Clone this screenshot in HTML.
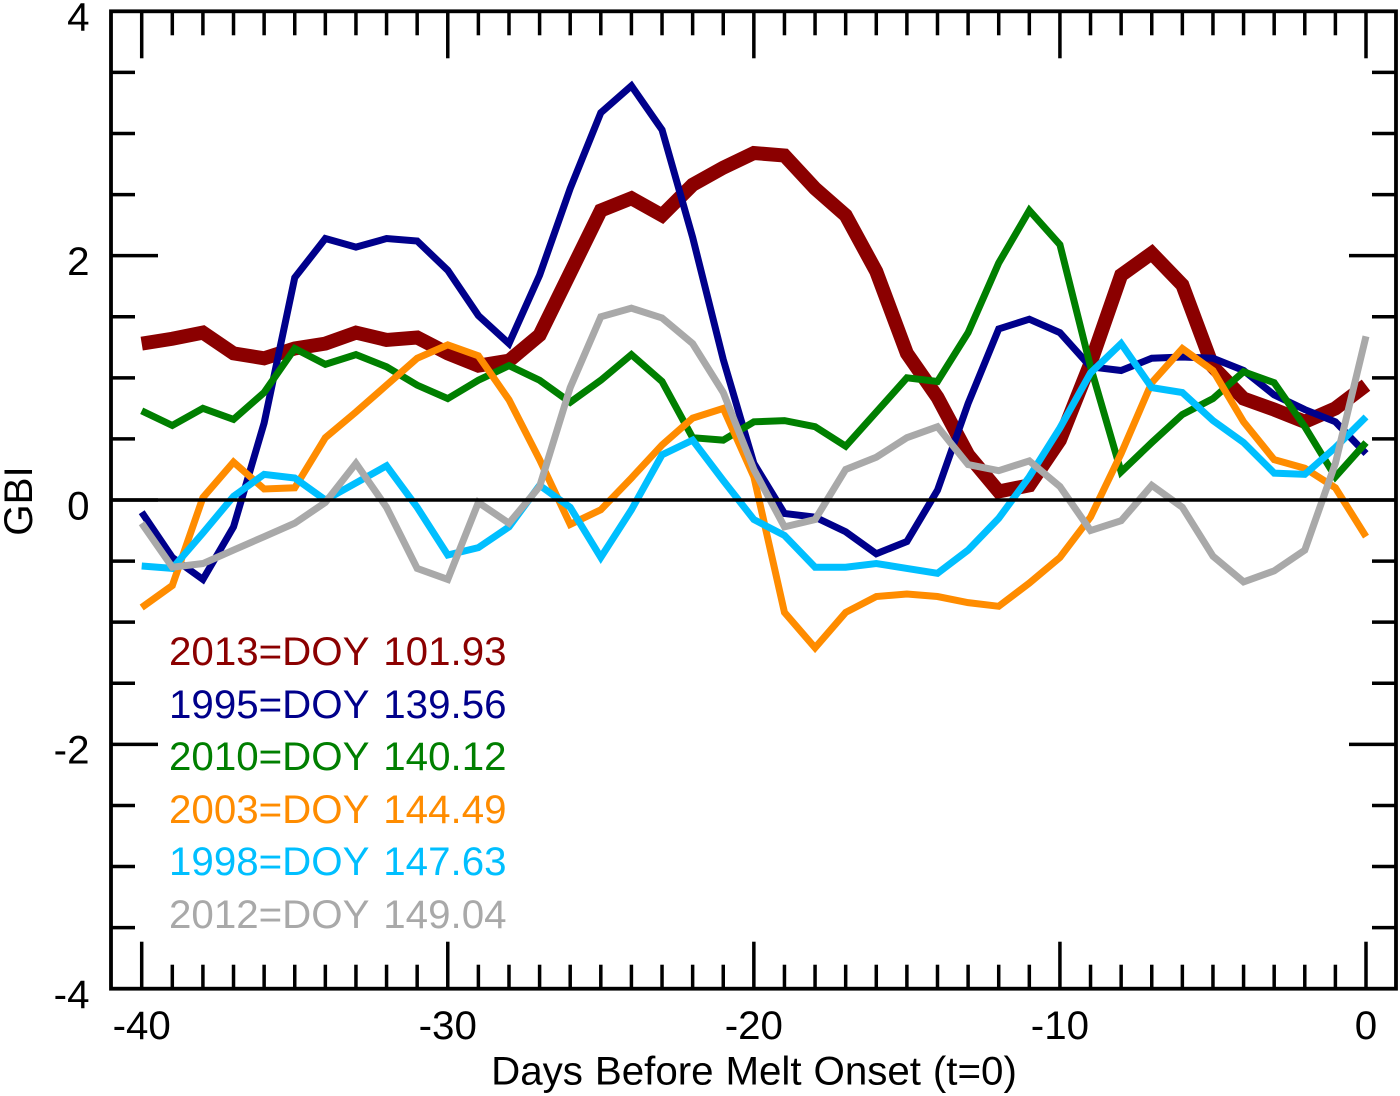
<!DOCTYPE html>
<html lang="en">
<head>
<meta charset="utf-8">
<title>GBI Before Melt Onset</title>
<style>
html,body{margin:0;padding:0;background:#fff;width:1400px;height:1096px;overflow:hidden}
svg{display:block}
text{font-family:"Liberation Sans",Arial,sans-serif;font-size:40.3px;fill:#000;white-space:pre}
</style>
</head>
<body>
<svg id="chart" xmlns="http://www.w3.org/2000/svg" width="1400" height="1096" viewBox="0 0 1400 1096">
  <rect x="0" y="0" width="1400" height="1096" fill="#fff"/>
  <g id="series-layer"></g>
  <g id="tick-layer"></g>
  <line id="zero-line" stroke="#000" stroke-width="3.5"/>
  <rect id="frame" fill="none" stroke="#000" stroke-width="3.8"/>
  <g id="label-layer"></g>
  <text x="754" y="1084.5" text-anchor="middle" style="word-spacing:0.7px">Days Before Melt Onset (t=0)</text>
  <text x="32" y="501" text-anchor="middle" transform="rotate(-90 32 501)">GBI</text>
  <g style="word-spacing:3.3px">
    <text x="169" y="665" style="fill:#8b0000">2013=DOY 101.93</text>
    <text x="169" y="718" style="fill:#00008b">1995=DOY 139.56</text>
    <text x="169" y="770" style="fill:#007f00">2010=DOY 140.12</text>
    <text x="169" y="823" style="fill:#ff8c00">2003=DOY 144.49</text>
    <text x="169" y="875" style="fill:#00bfff">1998=DOY 147.63</text>
    <text x="169" y="928" style="fill:#a9a9a9">2012=DOY 149.04</text>
  </g>
</svg>
<script>
var days = [-40,-39,-38,-37,-36,-35,-34,-33,-32,-31,-30,-29,-28,-27,-26,-25,-24,-23,-22,-21,-20,-19,-18,-17,-16,-15,-14,-13,-12,-11,-10,-9,-8,-7,-6,-5,-4,-3,-2,-1,0];
var gbi2013 = [1.28,1.32,1.37,1.20,1.16,1.24,1.28,1.37,1.31,1.33,1.20,1.10,1.14,1.35,1.86,2.37,2.47,2.33,2.58,2.72,2.84,2.82,2.55,2.33,1.87,1.20,0.84,0.37,0.07,0.12,0.49,1.12,1.84,2.02,1.76,1.09,0.83,0.74,0.64,0.75,0.94];
var gbi1995 = [-0.10,-0.47,-0.65,-0.22,0.63,1.82,2.14,2.07,2.14,2.12,1.88,1.51,1.28,1.84,2.55,3.17,3.39,3.03,2.15,1.15,0.30,-0.11,-0.14,-0.26,-0.44,-0.34,0.08,0.79,1.40,1.48,1.37,1.09,1.06,1.16,1.17,1.16,1.06,0.86,0.74,0.64,0.38];
var gbi2010 = [0.73,0.61,0.75,0.66,0.88,1.24,1.11,1.19,1.09,0.94,0.83,0.98,1.10,0.98,0.80,0.98,1.19,0.97,0.51,0.49,0.64,0.65,0.60,0.44,0.72,1.00,0.97,1.37,1.94,2.37,2.09,1.09,0.23,0.47,0.70,0.83,1.05,0.96,0.60,0.19,0.47];
var gbi2003 = [-0.88,-0.70,0.02,0.31,0.09,0.10,0.51,0.72,0.94,1.16,1.27,1.18,0.82,0.33,-0.20,-0.08,0.18,0.45,0.67,0.75,0.19,-0.92,-1.21,-0.92,-0.79,-0.77,-0.79,-0.84,-0.87,-0.68,-0.47,-0.14,0.38,0.96,1.24,1.06,0.64,0.33,0.26,0.10,-0.30];
var gbi1998 = [-0.54,-0.56,-0.27,0.03,0.21,0.18,0.00,0.14,0.28,-0.06,-0.45,-0.39,-0.22,0.12,-0.06,-0.47,-0.08,0.37,0.49,0.16,-0.16,-0.29,-0.55,-0.55,-0.52,-0.56,-0.60,-0.41,-0.15,0.19,0.59,1.04,1.28,0.92,0.88,0.65,0.47,0.22,0.21,0.43,0.68];
var gbi2012 = [-0.19,-0.55,-0.52,-0.41,-0.30,-0.19,-0.02,0.30,-0.06,-0.56,-0.65,-0.02,-0.19,0.11,0.92,1.50,1.57,1.49,1.28,0.88,0.25,-0.22,-0.16,0.25,0.35,0.51,0.60,0.29,0.24,0.32,0.11,-0.25,-0.17,0.12,-0.06,-0.46,-0.67,-0.58,-0.41,0.30,1.34];
var xMajorTicks = [-40,-30,-20,-10,0];
var yMajorTicks = [-4,-2,0,2,4];

var NS = 'http://www.w3.org/2000/svg';
var plot = {left:111, right:1396, top:11.3, bottom:988.7, x0:141.7, x1:1366};
function sx(d){ return plot.x0 + (d + 40) * (plot.x1 - plot.x0) / 40; }
function sy(v){ return plot.bottom - (v + 4) * (plot.bottom - plot.top) / 8; }

var seriesLayer = document.getElementById('series-layer');
var tickLayer = document.getElementById('tick-layer');
var labelLayer = document.getElementById('label-layer');

function drawSeries(name, values, color, width){
  var line = document.createElementNS(NS, 'polyline');
  
  
  var pts = [];
  for (var i = 0; i < values.length; i++) {
    pts.push(sx(days[i]).toFixed(2) + ',' + sy(values[i]).toFixed(2));
  }
  line.setAttribute('points', pts.join(' '));
  line.setAttribute('fill', 'none');
  line.setAttribute('stroke', color);
  line.setAttribute('stroke-width', width);
  line.setAttribute('stroke-linejoin', 'miter');
  line.setAttribute('stroke-miterlimit', '10');
  seriesLayer.appendChild(line);
}
drawSeries('2013', gbi2013, '#8b0000', 14);
drawSeries('1995', gbi1995, '#00008b', 7);
drawSeries('2010', gbi2010, '#007f00', 7);
drawSeries('2003', gbi2003, '#ff8c00', 7);
drawSeries('1998', gbi1998, '#00bfff', 7);
drawSeries('2012', gbi2012, '#a9a9a9', 7);

function tick(x1, y1, x2, y2, name){
  var t = document.createElementNS(NS, 'line');
  
  
  t.setAttribute('x1', x1);
  t.setAttribute('y1', y1);
  t.setAttribute('x2', x2);
  t.setAttribute('y2', y2);
  t.setAttribute('stroke', '#000');
  t.setAttribute('stroke-width', '3.5');
  tickLayer.appendChild(t);
}
function label(str, x, y, anchor, name){
  var t = document.createElementNS(NS, 'text');
  
  
  t.setAttribute('x', x);
  t.setAttribute('y', y);
  t.setAttribute('text-anchor', anchor);
  t.textContent = str;
  labelLayer.appendChild(t);
}

days.forEach(function(d){
  var major = xMajorTicks.indexOf(d) >= 0;
  var len = major ? 47 : 24;
  var x = sx(d);
  tick(x, plot.top, x, plot.top + len, 'x-tick-top');
  tick(x, plot.bottom, x, plot.bottom - len, 'x-tick-bottom');
});
for (var k = -8; k <= 8; k++) {
  var v = k / 2;
  if (v === -4 || v === 4) continue;
  var isMajor = yMajorTicks.indexOf(v) >= 0;
  var ylen = isMajor ? 47 : 24;
  var yy = sy(v);
  tick(plot.left, yy, plot.left + ylen, yy, 'y-tick-left');
  tick(plot.right, yy, plot.right - ylen, yy, 'y-tick-right');
}
xMajorTicks.forEach(function(d){
  label(String(d), sx(d), 1039, 'middle', 'x-tick-label');
});
yMajorTicks.forEach(function(v){
  label(String(v), 89.5, sy(v) + 19.3, 'end', 'y-tick-label');
});

var zero = document.getElementById('zero-line');
zero.setAttribute('x1', plot.left);
zero.setAttribute('x2', plot.right);
zero.setAttribute('y1', sy(0));
zero.setAttribute('y2', sy(0));

var frame = document.getElementById('frame');
frame.setAttribute('x', plot.left);
frame.setAttribute('y', plot.top);
frame.setAttribute('width', plot.right - plot.left);
frame.setAttribute('height', plot.bottom - plot.top);
</script>
</body>
</html>
